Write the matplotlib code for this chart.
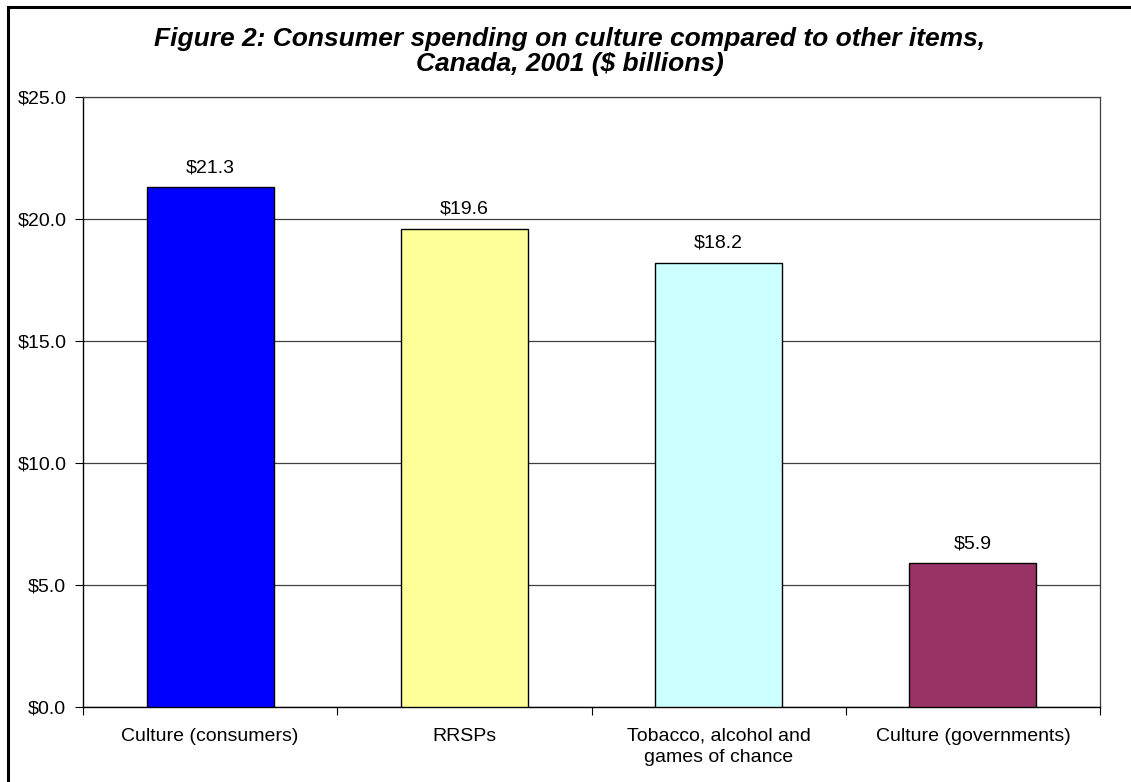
import matplotlib
matplotlib.use("Agg")
import matplotlib.pyplot as plt
from matplotlib.patches import Rectangle

plt.rcParams['font.family'] = ['Liberation Sans', 'DejaVu Sans']

categories = ["Culture (consumers)", "RRSPs", "Tobacco, alcohol and\ngames of chance", "Culture (governments)"]
values = [21.3, 19.6, 18.2, 5.9]
colors = ["#0000FF", "#FFFF99", "#CCFFFF", "#993366"]
yticks = [0, 5, 10, 15, 20, 25]
title = "Figure 2: Consumer spending on culture compared to other items,\nCanada, 2001 ($ billions)"

W, H = 1131, 782
fig = plt.figure(figsize=(W / 100, H / 100), dpi=100)
fig.patch.set_facecolor("white")

# outer border (left/top visible)
fig.add_artist(Rectangle((8 / W, -0.01), 1.2, 1 - 7 / H + 0.01, transform=fig.transFigure,
                         fill=False, edgecolor="black", linewidth=2.2))

left, right, top, bottom = 83, 1100, 97, 707
ax = fig.add_axes([left / W, 1 - bottom / H, (right - left) / W, (bottom - top) / H])

x = list(range(len(categories)))
ax.bar(x, values, width=0.5, color=colors, edgecolor="black", linewidth=1.0, zorder=3)
for xi, v in zip(x, values):
    ax.text(xi, v + 0.45, f"${v:.1f}", ha="center", va="bottom", fontsize=14)

ax.set_xlim(-0.5, len(categories) - 0.5)
ax.set_ylim(0, 25)
ax.set_yticks(yticks)
ax.set_yticklabels([f"${t:.1f}" for t in yticks], fontsize=14)
ax.yaxis.grid(True, color="#404040", linewidth=0.9, zorder=0)
ax.set_axisbelow(True)

ax.set_xticks([i + 0.5 for i in range(-1, len(categories))], minor=False)
ax.set_xticklabels([])
ax.set_xticks(x, minor=True)
ax.set_xticklabels(categories, minor=True, fontsize=14, linespacing=1.35)
ax.tick_params(axis="x", which="minor", length=0, pad=15)
ax.tick_params(axis="x", which="major", length=6, direction="out", color="black")
ax.tick_params(axis="y", length=6, direction="out", pad=6)

for s in ["left", "bottom"]:
    ax.spines[s].set_color("black")
    ax.spines[s].set_linewidth(1.0)
for s in ["top", "right"]:
    ax.spines[s].set_color("#404040")
    ax.spines[s].set_linewidth(0.9)

fig.text(570 / W, 1 - 51.5 / H, title, ha="center", va="center", fontsize=19,
         fontweight="bold", fontstyle="italic", linespacing=1.05)

fig.savefig("out.png", dpi=100)
